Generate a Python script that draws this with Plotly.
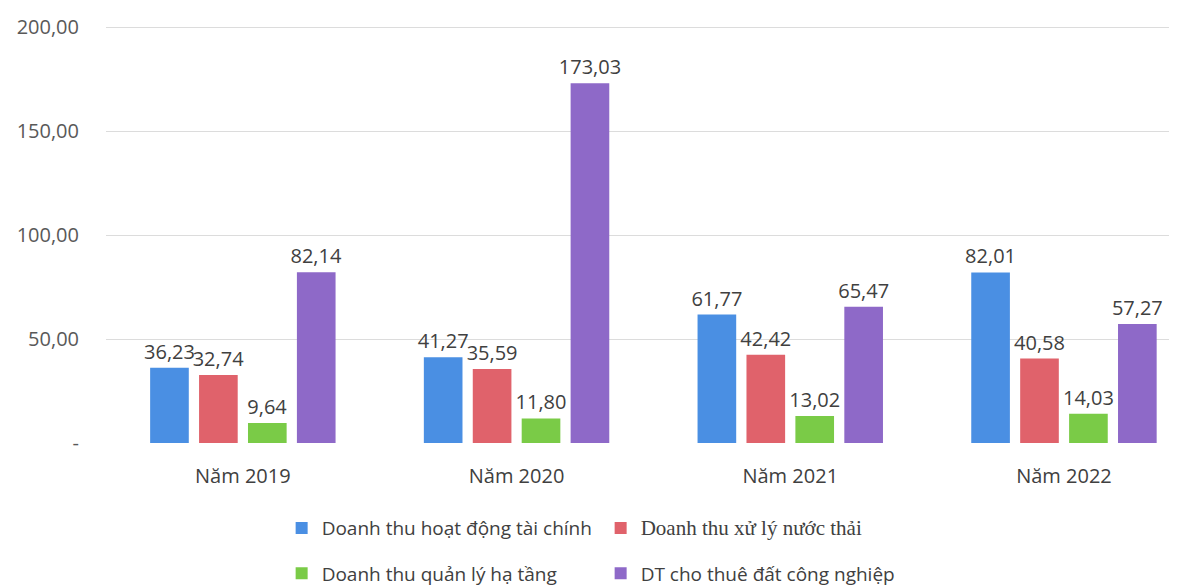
import plotly.graph_objects as go

categories = ["Năm 2019", "Năm 2020", "Năm 2021", "Năm 2022"]
series_names = [
    "Doanh thu hoạt động tài chính",
    "Doanh thu xử lý nước thải",
    "Doanh thu quản lý hạ tầng",
    "DT cho thuê đất công nghiệp",
]
tai_chinh = [36.23, 41.27, 61.77, 82.01]
nuoc_thai = [32.74, 35.59, 42.42, 40.58]
ha_tang = [9.64, 11.80, 13.02, 14.03]
thue_dat = [82.14, 173.03, 65.47, 57.27]
y_tickvals = [0, 50, 100, 150, 200]
y_ticktext = ["-", "50,00", "100,00", "150,00", "200,00"]

colors = ["#4A8FE3", "#E0626B", "#7ACB47", "#8E69C8"]
legend_ids = ["legend", "legend", "legend2", "legend2"]
font_main = "Open Sans"

fig = go.Figure()
for name, vals, col, lg in zip(series_names, [tai_chinh, nuoc_thai, ha_tang, thue_dat], colors, legend_ids):
    label = name
    if name == "Doanh thu xử lý nước thải":
        label = "<span style='font-family:Liberation Serif;font-size:21px'>" + name + "</span>"
    fig.add_trace(go.Bar(
        x=categories, y=vals, name=label, marker=dict(color=col, line=dict(width=0)),
        texttemplate="%{y:.2f}", textposition="outside", cliponaxis=False,
        textfont=dict(family=font_main, size=20, color="#404040"),
        legend=lg,
    ))

# page body adds an 8px margin; compensate so the plot lands where the reference has it
fig.update_layout(
    width=1169, height=579,
    margin=dict(l=98, r=0, t=18, b=144, autoexpand=False),
    paper_bgcolor="white", plot_bgcolor="white",
    separators=", ",
    uniformtext=dict(minsize=20, mode="show"),
    barmode="group", bargap=0.285, bargroupgap=0.21,
    font=dict(family=font_main, size=20, color="#595959"),
    xaxis=dict(range=[-0.5, 3.413], showgrid=False, showline=False, zeroline=False,
               tickfont=dict(size=20, color="#404040"), ticks="", ticklabelstandoff=19),
    yaxis=dict(range=[0, 200.5], tickvals=y_tickvals, ticktext=y_ticktext,
               showgrid=True, gridcolor="#dcdcdc", gridwidth=1, zeroline=False,
               showline=False, ticks="", ticklabelstandoff=26,
               tickfont=dict(size=20, color="#595959")),
    legend=dict(orientation="h", x=0.164, xanchor="left", y=-0.204, yanchor="middle",
                entrywidth=274, font=dict(size=19, color="#404040"), itemwidth=30,
                bgcolor="rgba(0,0,0,0)"),
    legend2=dict(orientation="h", x=0.164, xanchor="left", y=-0.3125, yanchor="middle",
                 entrywidth=274, font=dict(size=19, color="#404040"), itemwidth=30,
                 bgcolor="rgba(0,0,0,0)"),
)

fig.write_html("out.html")
